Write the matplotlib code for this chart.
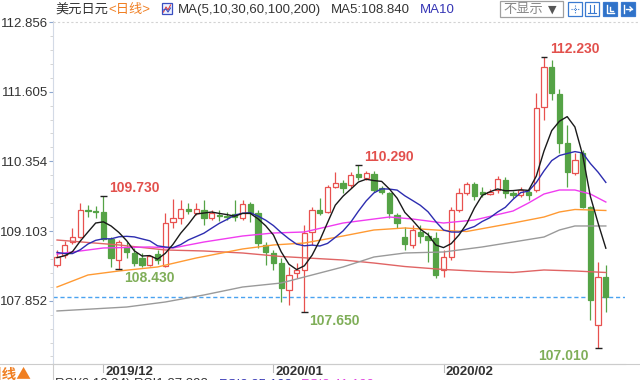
import matplotlib
matplotlib.use('Agg')
import matplotlib.pyplot as plt
import matplotlib.transforms as mtransforms
from matplotlib.patches import Rectangle
from matplotlib.lines import Line2D
from matplotlib.ticker import AutoMinorLocator
import numpy as np

plt.rcParams['font.family'] = ['Liberation Sans', 'Noto Sans CJK SC', 'DejaVu Sans']

# ---------------- data ----------------
title = '美元日元'
period = '<日线>'
ma_legend = 'MA(5,10,30,60,100,200)'
ma5_text = 'MA5:108.840'
ma10_text = 'MA10'
month_labels = ['2019/12', '2020/01', '2020/02']
month_pos = [6, 28, 50]
ytick_vals = [107.852, 109.103, 110.354, 111.605, 112.856]

opens = [108.494, 108.673, 108.906, 108.996, 109.480, 109.462, 109.444, 108.960, 108.583, 108.817,
         108.709, 108.619, 108.494, 108.691, 108.476, 109.265, 109.337, 109.498, 109.427, 109.480,
         109.337, 109.391, 109.373, 109.409, 109.337, 109.588, 109.427, 108.853, 108.709, 108.529,
         108.045, 108.350, 108.404, 109.086, 109.480, 109.445, 109.894, 109.966, 109.930, 110.127,
         110.055, 110.127, 109.876, 109.786, 109.391, 108.996, 108.853, 109.086, 109.014, 108.978,
         108.404, 108.637, 109.480, 109.786, 109.948, 109.804, 109.768, 109.840, 110.019, 109.786,
         109.750, 109.804, 109.840, 111.330, 112.048, 111.563, 110.684, 110.145, 110.504, 109.534,
         107.416, 108.278]
highs = [108.763, 108.925, 109.157, 109.606, 109.570, 109.552, 109.730, 108.996, 108.942, 108.906,
         108.799, 108.709, 108.673, 108.763, 109.427, 109.678, 109.660, 109.606, 109.606, 109.660,
         109.480, 109.480, 109.445, 109.660, 109.660, 109.624, 109.480, 108.906, 108.763, 108.619,
         108.458, 108.529, 109.211, 109.534, 109.696, 109.930, 110.163, 110.019, 110.163, 110.290,
         110.181, 110.181, 109.912, 109.804, 109.427, 109.175, 109.211, 109.211, 109.086, 109.086,
         108.763, 109.534, 109.876, 109.984, 109.984, 109.894, 109.858, 110.091, 110.073, 109.822,
         109.894, 109.876, 111.581, 112.230, 112.174, 111.653, 111.007, 110.504, 110.558, 109.552,
         108.547, 108.494]
lows = [108.460, 108.619, 108.870, 108.978, 109.355, 109.337, 108.925, 108.458, 108.430, 108.619,
        108.475, 108.458, 108.476, 108.511, 108.458, 109.157, 109.229, 109.409, 109.391, 109.211,
        109.301, 109.283, 109.301, 109.283, 109.301, 109.265, 108.799, 108.494, 108.404, 107.829,
        107.775, 108.260, 107.650, 108.853, 109.391, 109.427, 109.876, 109.786, 109.876, 110.019,
        110.019, 109.804, 109.768, 109.337, 109.157, 108.763, 108.800, 108.888, 108.547, 108.260,
        108.278, 108.583, 109.445, 109.750, 109.660, 109.714, 109.750, 109.786, 109.696, 109.696,
        109.714, 109.660, 109.804, 111.097, 111.456, 110.504, 109.894, 110.109, 109.516, 107.506,
        107.010, 107.650]
closes = [108.637, 108.853, 108.996, 109.480, 109.462, 109.444, 108.960, 108.619, 108.906, 108.727,
          108.529, 108.494, 108.655, 108.583, 109.247, 109.337, 109.498, 109.462, 109.498, 109.337,
          109.427, 109.373, 109.355, 109.355, 109.588, 109.427, 108.888, 108.727, 108.529, 108.081,
          108.314, 108.404, 109.068, 109.480, 109.427, 109.894, 109.966, 109.876, 110.109, 110.073,
          110.145, 109.840, 109.804, 109.427, 109.247, 108.870, 109.122, 109.014, 108.942, 108.314,
          108.637, 109.480, 109.786, 109.948, 109.732, 109.768, 109.804, 110.037, 109.786, 109.750,
          109.840, 109.750, 111.312, 112.048, 111.581, 110.684, 110.163, 110.379, 109.534, 107.865,
          108.278, 107.919]
# closes of the sessions just before the visible window (for MA5 / MA10 warm-up)
prior_closes = [109.05, 109.00, 108.80, 108.43, 108.78, 108.68, 108.63, 108.54, 108.64]

# longer moving averages at selected candles
ma30_idx = [0, 6, 12, 15, 19, 24, 28, 32, 37, 43, 46, 50, 54, 59, 61, 63, 65, 67, 69, 71]
ma30_val = [108.691, 108.799, 108.817, 108.799, 108.906, 109.014, 109.068, 109.086, 109.247, 109.355,
            109.319, 109.247, 109.301, 109.463, 109.607, 109.768, 109.840, 109.840, 109.768, 109.624]
ma60_idx = [0, 4, 8, 13, 18, 24, 28, 32, 37, 41, 45, 50, 53, 59, 63, 65, 67, 71]
ma60_val = [108.098, 108.314, 108.386, 108.458, 108.619, 108.781, 108.853, 108.888, 109.014, 109.122,
            109.158, 109.113, 109.095, 109.247, 109.355, 109.445, 109.490, 109.472]
ma100_idx = [0, 9, 14, 19, 24, 29, 32, 37, 41, 45, 50, 55, 59, 63, 65, 67, 71]
ma100_val = [107.668, 107.739, 107.829, 107.955, 108.098, 108.170, 108.278, 108.458, 108.637, 108.709,
             108.727, 108.817, 108.906, 108.996, 109.122, 109.194, 109.194]
ma200_idx = [0, 8, 14, 19, 24, 29, 37, 41, 45, 50, 55, 59, 63, 67, 71]
ma200_val = [108.942, 108.853, 108.763, 108.745, 108.709, 108.646, 108.583, 108.529, 108.466, 108.413,
             108.377, 108.359, 108.404, 108.386, 108.359]

high_marks = [6, 39, 63]
low_marks = [8, 32, 70]

# ---------------- style ----------------
UP = '#e8514f'
DN = '#55a346'
LBL_UP = '#e2504c'
LBL_DN = '#7fae58'
ORANGE = '#f07f22'

W, H = 640, 380
fig = plt.figure(figsize=(6.4, 3.8), dpi=100, facecolor='white')

ax_left, ax_right, ax_top, ax_bot = 53, 625, 21, 364
ax = fig.add_axes([ax_left / W, 1 - ax_bot / H, (ax_right - ax_left) / W, (ax_bot - ax_top) / H])
ax.set_facecolor('white')

n = len(closes)
o = np.array(opens); c = np.array(closes); hi = np.array(highs); lo = np.array(lows)
x = np.arange(n)

# candles
for i in range(n):
    up = c[i] >= o[i]
    col = UP if up else DN
    ax.vlines(i, lo[i], hi[i], color=col, lw=0.9, zorder=2)
    b0 = min(o[i], c[i])
    bh = max(abs(c[i] - o[i]), 0.015)
    ax.add_patch(Rectangle((i - 0.34, b0), 0.68, bh, facecolor='white' if up else col,
                           edgecolor=col, lw=0.9, zorder=2.2))

# moving averages
allc = np.array(prior_closes + closes)
def sma(arr, k):
    return np.convolve(arr, np.ones(k) / k, mode='valid')
ma5 = sma(allc, 5)[len(prior_closes) - 4:]
ma10 = sma(allc, 10)[len(prior_closes) - 9:]

ax.plot(ma200_idx, ma200_val, color='#e06464', lw=1.0, zorder=3)
ax.plot(ma100_idx, ma100_val, color='#9a9a9a', lw=1.0, zorder=3)
ax.plot(ma60_idx, ma60_val, color='#ff9a33', lw=1.0, zorder=3)
ax.plot(ma30_idx, ma30_val, color='#f03cf0', lw=1.0, zorder=3)
ax.plot(x, ma10, color='#2d2db0', lw=1.0, zorder=3.1)
ax.plot(x, ma5, color='#1a1a1a', lw=1.0, zorder=3.2)

# last price dashed line
ax.axhline(c[-1], color='#4aa3f0', lw=1.0, ls=(0, (3, 2)), zorder=1.5)

# extreme marks
for i in high_marks:
    ax.hlines(hi[i], i - 0.45, i + 0.45, color='#222222', lw=1.0, zorder=4)
    ax.annotate(f'{hi[i]:.3f}', xy=(i, hi[i]), xytext=(6, 8), textcoords='offset pixels',
                ha='left', va='center', color=LBL_UP, fontsize=10, fontweight='bold', zorder=5)
for i in low_marks:
    ax.hlines(lo[i], i - 0.45, i + 0.45, color='#222222', lw=1.0, zorder=4)
    if i == n - 2:
        ax.annotate(f'{lo[i]:.3f}', xy=(i, lo[i]), xytext=(-9, -8), textcoords='offset pixels',
                    ha='right', va='center', color=LBL_DN, fontsize=10, fontweight='bold',
                    zorder=5, annotation_clip=False)
    else:
        ax.annotate(f'{lo[i]:.3f}', xy=(i, lo[i]), xytext=(5, -9), textcoords='offset pixels',
                    ha='left', va='center', color=LBL_DN, fontsize=10, fontweight='bold', zorder=5)

# axes limits (pixel-calibrated)
ax.set_ylim(106.716, 112.874)
ax.set_xlim(-0.52, 73.48)

ax.set_yticks(ytick_vals)
ax.set_yticklabels([f'{v:.3f}' for v in ytick_vals])
ax.yaxis.set_minor_locator(AutoMinorLocator(5))
ax.tick_params(axis='y', which='major', direction='out', length=3, width=0.8, color='#8fa8d0',
               labelcolor='#333333', labelsize=9.5, pad=0.5)
ax.tick_params(axis='y', which='minor', direction='out', length=2, width=0.6, color='#cfcfcf')
ax.set_xticks([])
for s in ['top', 'right']:
    ax.spines[s].set_visible(False)
ax.spines['left'].set_color('#d3dae6')
ax.spines['left'].set_linewidth(0.8)
ax.spines['bottom'].set_color('#cccccc')
ax.spines['bottom'].set_linewidth(0.8)

# month ticks and labels
blend = mtransforms.blended_transform_factory(ax.transData, ax.transAxes)
ah = ax_bot - ax_top
for p, lab in zip(month_pos, month_labels):
    ax.add_line(Line2D([p, p], [0, -8 / ah], transform=blend, color='#bbbbbb', lw=0.8, clip_on=False))
    ax.text(p, -2 / ah, lab, transform=blend + mtransforms.ScaledTranslation(2 / 100, 0, fig.dpi_scale_trans),
            ha='left', va='top', fontsize=9.5, fontweight='bold', color='#333333', clip_on=False)

# ---------------- figure-level decorations ----------------
def fx(xp):
    return xp / W
def fy(yp):
    return 1 - yp / H

def ftext(xp, yp, s, **kw):
    fig.text(fx(xp), fy(yp), s, **kw)

def frect(x0, y0, w, h, **kw):
    fig.add_artist(Rectangle((fx(x0), fy(y0 + h)), w / W, h / H, transform=fig.transFigure, **kw))

def fline(xs, ys, **kw):
    fig.add_artist(Line2D([fx(v) for v in xs], [fy(v) for v in ys], transform=fig.transFigure, **kw))

# header
ftext(55, 10, title, ha='left', va='center', fontsize=9.5, color='#333333')
ftext(108, 10, period, ha='left', va='center', fontsize=9.5, color=ORANGE)
frect(162, 3, 10, 11, facecolor='#eef2ff', edgecolor='#3a4fc0', lw=0.9)
fline([163.5, 166, 168, 170.5], [12, 7, 10, 5], color='#e04040', lw=0.8)
fline([163.5, 166, 168, 170.5], [10, 9, 12, 8], color='#3a4fc0', lw=0.8)
ftext(178, 10, ma_legend, ha='left', va='center', fontsize=9.5, color='#333333')
ftext(331, 10, ma5_text, ha='left', va='center', fontsize=9.5, color='#333333')
ftext(420, 10, ma10_text, ha='left', va='center', fontsize=9.5, color='#3535b5')

# right controls
frect(500, 1.5, 63, 15, facecolor='white', edgecolor='#a0a0a0', lw=0.9)
ftext(503, 9.5, '不显示', ha='left', va='center', fontsize=9.5, color='#888888')
ftext(548, 9.5, '▼', ha='left', va='center', fontsize=8, color='#555555',
      family=['DejaVu Sans'])
icon_x = [568, 585, 603, 621]
icon_fill = [False, False, True, True]
for xi, filled in zip(icon_x, icon_fill):
    frect(xi, 2, 14, 14, facecolor='#2f72c8' if filled else 'white', edgecolor='#3a7ad0', lw=0.9)
gcol = '#3a7ad0'
fline([575, 575], [5, 13], color=gcol, lw=0.8, ls=(0, (1, 1)))
fline([571, 579], [9, 9], color=gcol, lw=0.8, ls=(0, (1, 1)))
fline([588, 596], [13, 13], color=gcol, lw=0.8)
fline([590, 590], [5, 13], color=gcol, lw=0.8)
fline([594, 594], [5, 13], color=gcol, lw=0.8)
fline([607, 607, 614], [5, 13, 13], color='white', lw=1.0)
fline([610, 610, 613], [7, 11, 11], color='white', lw=1.0)
fline([624, 624], [5, 13], color='white', lw=1.0)
fline([626, 632], [9, 9], color='white', lw=1.0)
fline([630, 632, 630], [7, 9, 11], color='white', lw=1.0)

# dashed top line
fline([ax_left, 640], [22, 22], color='#d3d3d3', lw=0.8, ls=(0, (2, 2)))

# bottom panel borders
fline([0, 640], [ax_bot, ax_bot], color='#cccccc', lw=0.8)
fline([ax_left, ax_left], [ax_bot, 380], color='#cccccc', lw=0.8)

# bottom-left period tab and indicator row (partly cut by the frame)
ftext(-12, 366, '日线▲', ha='left', va='top', fontsize=10.5, fontweight='bold', color=ORANGE,
      family=['Noto Sans CJK SC', 'DejaVu Sans'])
ftext(55, 378.5, 'RSI(6,12,24) RSI1:27.392', ha='left', va='top', fontsize=9.5, color='#333333')
ftext(219, 378.5, 'RSI2:35.108', ha='left', va='top', fontsize=9.5, color='#3535b5')
ftext(301, 378.5, 'RSI3:41.199', ha='left', va='top', fontsize=9.5, color='#e040e0')

fig.savefig('out.png', dpi=100, facecolor='white')
